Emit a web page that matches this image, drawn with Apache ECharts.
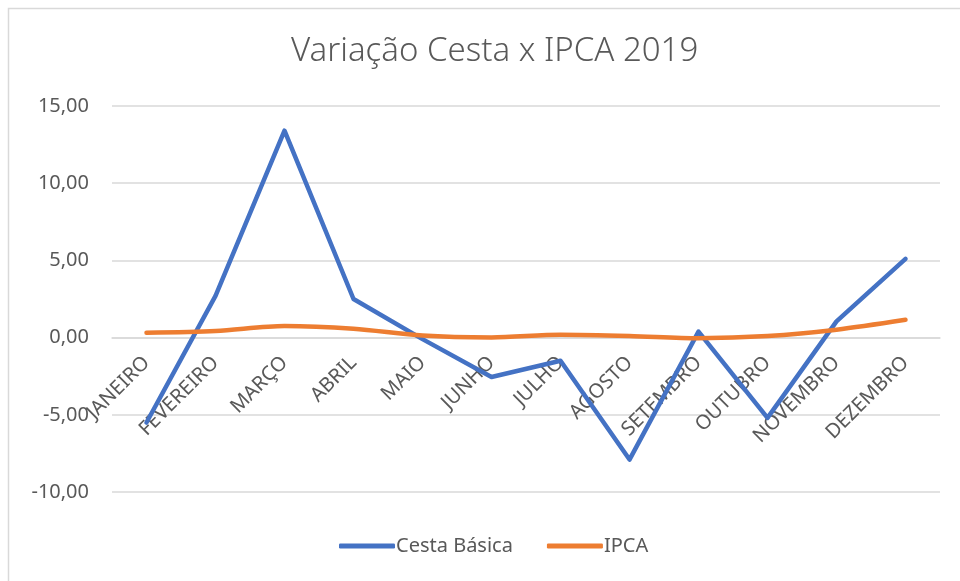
<!DOCTYPE html>
<html>
<head>
<meta charset="utf-8">
<script src="https://cdn.jsdelivr.net/npm/echarts@6/dist/echarts.min.js"></script>
<style>
  html, body { margin: 0; padding: 0; background: #fff; }
  #main { width: 960px; height: 581px; }
</style>
</head>
<body>
<div id="main"></div>
<script>
var meses = ["JANEIRO", "FEVEREIRO", "MARÇO", "ABRIL", "MAIO", "JUNHO", "JULHO", "AGOSTO", "SETEMBRO", "OUTUBRO", "NOVEMBRO", "DEZEMBRO"];
var cestaBasica = [-5.5, 2.7, 13.4, 2.5, -0.1, -2.55, -1.5, -7.9, 0.39, -5.2, 1.05, 5.1];
var ipca = [0.32, 0.43, 0.75, 0.57, 0.13, 0.01, 0.19, 0.11, -0.04, 0.10, 0.51, 1.15];
var yTicks = [-10, -5, 0, 5, 10, 15];

var cinza = "#595959";
var fonte = "'Noto Sans', 'Open Sans', sans-serif";

var myChart = echarts.init(document.getElementById("main"));
myChart.setOption({
  animation: false,
  textStyle: { fontFamily: fonte },
  title: {
    text: "Variação Cesta x IPCA 2019",
    left: 286,
    top: 30,
    textStyle: { color: cinza, fontSize: 33, fontWeight: 300, fontFamily: fonte }
  },
  graphic: [{
    type: "rect",
    shape: { x: 8.5, y: 8.5, width: 980, height: 600 },
    style: { fill: "none", stroke: "#d9d9d9", lineWidth: 1.5 },
    silent: true
  }],
  legend: {
    data: ["Cesta Básica", "IPCA"],
    bottom: 20,
    left: 334,
    icon: "roundRect",
    itemWidth: 56,
    itemHeight: 5,
    itemGap: 34,
    textStyle: { color: cinza, fontSize: 20, padding: [0, 0, 0, -4] }
  },
  grid: { left: 112, right: 20, top: 106, bottom: 89 },
  xAxis: {
    type: "category",
    data: meses,
    boundaryGap: true,
    offset: -154.4,
    axisLine: { onZero: false, lineStyle: { color: "#d9d9d9", width: 1.5 } },
    axisTick: { show: false },
    axisLabel: { interval: 0, rotate: 45, color: cinza, fontSize: 20, margin: 22 }
  },
  yAxis: {
    type: "value",
    min: yTicks[0],
    max: yTicks[yTicks.length - 1],
    interval: 5,
    axisLine: { show: false },
    axisTick: { show: false },
    splitLine: { lineStyle: { color: "#d9d9d9", width: 1.5 } },
    axisLabel: {
      color: cinza,
      fontSize: 20,
      margin: 23,
      formatter: function (v) { return v.toFixed(2).replace(".", ","); }
    }
  },
  series: [
    {
      name: "Cesta Básica",
      type: "line",
      data: cestaBasica,
      symbol: "none",
      lineStyle: { color: "#4472C4", width: 4.5, cap: "round", join: "round" },
      itemStyle: { color: "#4472C4" }
    },
    {
      name: "IPCA",
      type: "line",
      data: ipca,
      symbol: "none",
      smooth: 0.3,
      lineStyle: { color: "#ED7D31", width: 4.5, cap: "round", join: "round" },
      itemStyle: { color: "#ED7D31" }
    }
  ]
});
</script>
</body>
</html>
